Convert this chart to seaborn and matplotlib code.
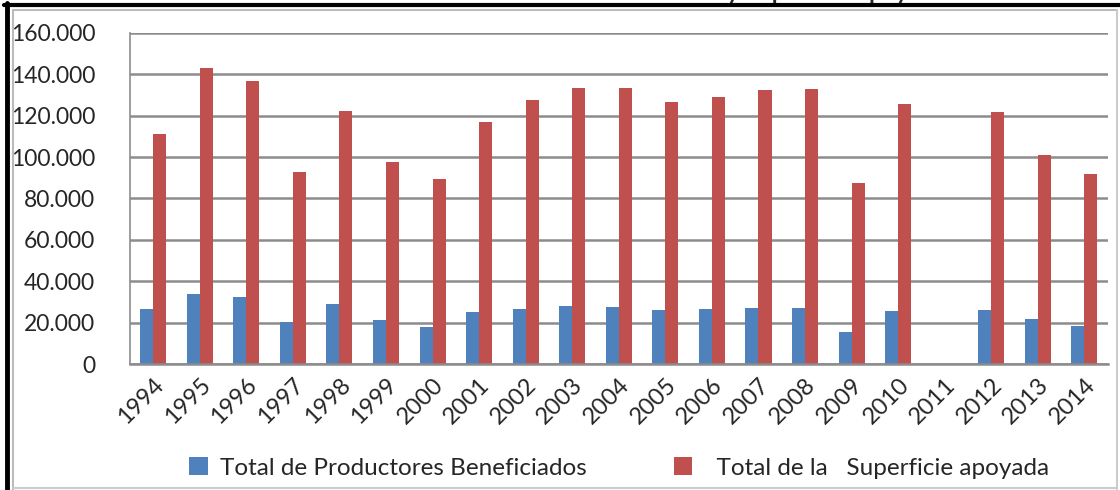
import pandas as pd
import matplotlib.pyplot as plt
import seaborn as sns
from matplotlib.lines import Line2D
from matplotlib.ticker import FuncFormatter

# data
years = ["1994", "1995", "1996", "1997", "1998", "1999", "2000", "2001", "2002", "2003", "2004",
         "2005", "2006", "2007", "2008", "2009", "2010", "2011", "2012", "2013", "2014"]
productores = [26600, 34000, 32200, 20100, 29000, 21300, 17900, 25100, 26600, 28000, 27600,
               26100, 26600, 27100, 27100, 15500, 25600, 0, 26100, 21800, 18500]
superficie = [110900, 143000, 136500, 92700, 122300, 97600, 89400, 117000, 127600, 133400, 133400,
              126600, 129000, 132400, 133000, 87500, 125700, 0, 121800, 101000, 91800]
series_names = ["Total de Productores Beneficiados", "  Total de la   Superficie apoyada"]

df = pd.DataFrame({
    "year": years * 2,
    "value": productores + superficie,
    "serie": [series_names[0]] * len(years) + [series_names[1]] * len(years),
})

sns.set_style("white")
plt.rcParams['font.family'] = ['Lato', 'DejaVu Sans']

fig = plt.figure(figsize=(11.2, 4.9), dpi=100)
ax = fig.add_axes([0.116, 0.257, 0.873, 0.676])

sns.barplot(data=df, x="year", y="value", hue="serie", order=years,
            palette=["#4F81BD", "#C0504D"], width=0.56, saturation=1,
            edgecolor="none", ax=ax)

ax.set_ylim(0, 160000)
ax.set_xlim(-0.5, len(years) - 0.5)
ax.set_yticks(range(0, 160001, 20000))
ax.yaxis.set_major_formatter(FuncFormatter(lambda v, p: "0" if v == 0 else f"{int(v):,}".replace(",", ".")))
ax.grid(axis="y", color="#8C8C8C", linewidth=1.8)
ax.set_axisbelow(True)
ax.set_xlabel("")
ax.set_ylabel("")

for s in ["top", "right"]:
    ax.spines[s].set_visible(False)
ax.spines["left"].set_color("#8C8C8C")
ax.spines["bottom"].set_color("#8C8C8C")
ax.spines["left"].set_linewidth(1.2)
ax.spines["bottom"].set_linewidth(1.8)

ax.tick_params(axis="y", length=8, color="#8C8C8C", width=1.8, labelsize=16.5, pad=17)
# x ticks at category borders, labels at centres
ax.set_xticks(range(len(years)))
ax.set_xticklabels(years, rotation=45, ha="right", rotation_mode="anchor", fontsize=17)
ax.tick_params(axis="x", length=0, pad=7)
ax.set_xticks([i - 0.5 for i in range(len(years) + 1)], minor=True)
ax.tick_params(axis="x", which="minor", length=8, color="#8C8C8C", width=1.2)

handles, labels = ax.get_legend_handles_labels()
ax.get_legend().remove()
fig.legend(handles, labels, loc="center", bbox_to_anchor=(0.553, 0.045), ncol=2,
           frameon=False, fontsize=17.5, handlelength=0.75, handleheight=0.75,
           columnspacing=3.6, handletextpad=0.5)

# cropped title (only descenders remain above the frame)
fig.text(0.845, 1 + 1.5 / 490, "Total de Productores Beneficiados y Superficie apoyada",
         ha="right", va="baseline", fontsize=17, fontweight="bold")

# frame of the original document
fig.add_artist(Line2D([0.0065, 0.0065], [0, 0.993], color="black", linewidth=3.5, transform=fig.transFigure))
fig.add_artist(Line2D([0.004, 1], [0.989, 0.989], color="black", linewidth=3.0, transform=fig.transFigure))
fig.add_artist(Line2D([0.0115, 0.0115], [0, 0.98], color="#BBBBBB", linewidth=1.5, transform=fig.transFigure))
fig.add_artist(Line2D([0.0115, 0.997], [0.98, 0.98], color="#BBBBBB", linewidth=1.5, transform=fig.transFigure))
fig.add_artist(Line2D([0.997, 0.997], [0.003, 0.98], color="#CCCCCC", linewidth=1.5, transform=fig.transFigure))
fig.add_artist(Line2D([0.0115, 0.997], [0.004, 0.004], color="#CCCCCC", linewidth=1.5, transform=fig.transFigure))

fig.savefig("out.png", dpi=100)
